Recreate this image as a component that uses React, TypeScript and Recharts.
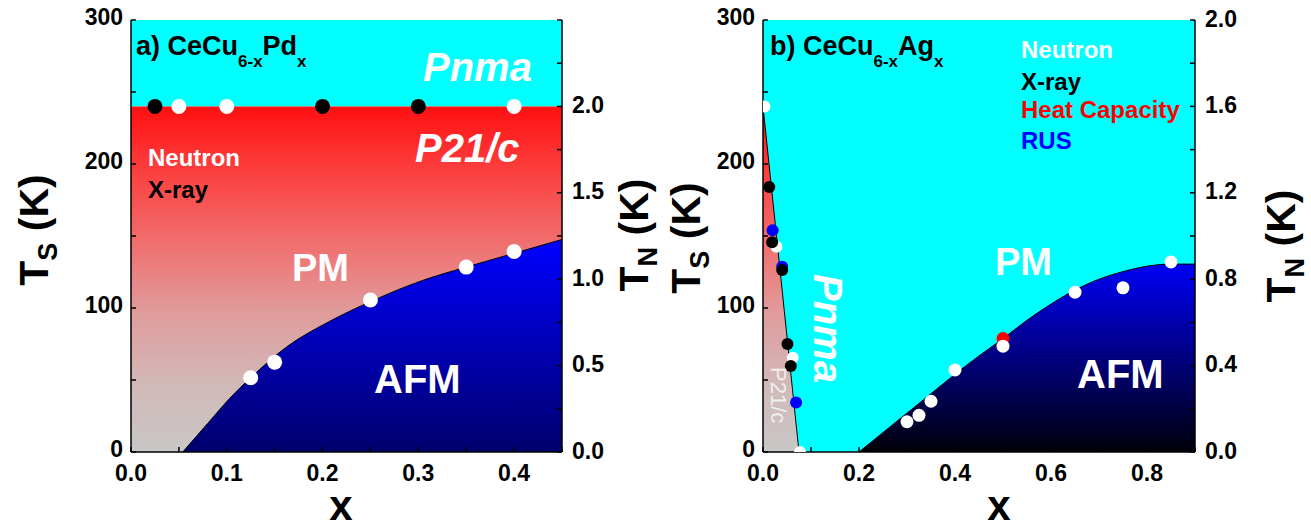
import React from 'react';
import { ComposedChart, XAxis, YAxis, Area, Scatter } from 'recharts';

const FONT = "'Liberation Sans', Arial, Helvetica, sans-serif";

// ---------- Panel a : CeCu6-xPdx ----------
const aXTicks = [0, 0.05, 0.1, 0.15, 0.2, 0.25, 0.3, 0.35, 0.4, 0.45];
const aXLabels = [0, 0.1, 0.2, 0.3, 0.4];
const aTsTicks = [0, 50, 100, 150, 200, 250, 300];
const aTsLabels = [0, 100, 200, 300];
const aTnTicks = [0, 0.25, 0.5, 0.75, 1, 1.25, 1.5, 1.75, 2, 2.25, 2.5];
const aTnLabels = [0, 0.5, 1, 1.5, 2];
const aStructTs = 240;
const aPnmaRegion = [{ x: 0, y: 300 }, { x: 0.45, y: 300 }];
const aP21cRegion = [{ x: 0, y: 240 }, { x: 0.45, y: 240 }];
const aStructNeutron = [{ x: 0.05, y: 240 }, { x: 0.1, y: 240 }, { x: 0.4, y: 240 }];
const aStructXray = [{ x: 0.025, y: 240 }, { x: 0.2, y: 240 }, { x: 0.3, y: 240 }];
const aNeelNeutron = [
  { x: 0.125, y: 0.43 }, { x: 0.15, y: 0.52 }, { x: 0.25, y: 0.88 },
  { x: 0.35, y: 1.07 }, { x: 0.4, y: 1.16 },
];
const aAfmBoundary = [
  { x: 0.054, y: 0 }, { x: 0.08, y: 0.165 }, { x: 0.103, y: 0.31 }, { x: 0.125, y: 0.43 },
  { x: 0.163, y: 0.61 }, { x: 0.207, y: 0.755 }, { x: 0.25, y: 0.87 }, { x: 0.303, y: 0.99 },
  { x: 0.35, y: 1.07 }, { x: 0.4, y: 1.15 }, { x: 0.45, y: 1.23 },
];

// ---------- Panel b : CeCu6-xAgx ----------
const bXTicks = [0, 0.1, 0.2, 0.3, 0.4, 0.5, 0.6, 0.7, 0.8, 0.9];
const bXLabels = [0, 0.2, 0.4, 0.6, 0.8];
const bTsTicks = [0, 50, 100, 150, 200, 250, 300];
const bTsLabels = [0, 100, 200, 300];
const bTnTicks = [0, 0.2, 0.4, 0.6, 0.8, 1, 1.2, 1.4, 1.6, 1.8, 2];
const bTnLabels = [0, 0.4, 0.8, 1.2, 1.6, 2];
const bPnmaRegion = [{ x: 0, y: 300 }, { x: 0.9, y: 300 }];
const bP21cBoundary = [{ x: 0, y: 240 }, { x: 0.075, y: 0 }];
const bStructNeutron = [{ x: 0.003, y: 240 }, { x: 0.028, y: 142.6 }, { x: 0.062, y: 65.5 }, { x: 0.077, y: 0 }];
const bStructXray = [
  { x: 0.013, y: 184 }, { x: 0.019, y: 145.6 }, { x: 0.04, y: 126.4 },
  { x: 0.051, y: 75 }, { x: 0.058, y: 59.7 },
];
const bStructRus = [{ x: 0.02, y: 154 }, { x: 0.04, y: 128.7 }, { x: 0.069, y: 34.3 }];
const bNeelNeutron = [
  { x: 0.3, y: 0.14 }, { x: 0.325, y: 0.17 }, { x: 0.35, y: 0.235 }, { x: 0.4, y: 0.38 },
  { x: 0.5, y: 0.49 }, { x: 0.65, y: 0.74 }, { x: 0.75, y: 0.76 }, { x: 0.85, y: 0.88 },
];
const bNeelHeatCapacity = [{ x: 0.5, y: 0.525 }];
const bAfmBoundary = [
  { x: 0.2, y: 0 }, { x: 0.25, y: 0.09 }, { x: 0.3, y: 0.18 }, { x: 0.35, y: 0.27 },
  { x: 0.4, y: 0.36 }, { x: 0.45, y: 0.445 }, { x: 0.5, y: 0.525 }, { x: 0.55, y: 0.61 },
  { x: 0.6, y: 0.685 }, { x: 0.65, y: 0.75 }, { x: 0.7, y: 0.8 }, { x: 0.75, y: 0.835 },
  { x: 0.8, y: 0.86 }, { x: 0.85, y: 0.87 }, { x: 0.9, y: 0.87 },
];

const has = (arr: number[], v: number) => arr.some((l) => Math.abs(l - v) < 1e-9);
const fmt = (labels: number[], digits: number) => (v: number) => (has(labels, v) ? v.toFixed(digits) : '');

const tickStyle = { fontSize: 23, fontWeight: 700, fill: '#000', fontFamily: FONT };
const leftTickStyle = { ...tickStyle, dy: -3 };
const rightTickStyle = { ...tickStyle, dy: -1.5 };
const lineStyle = { stroke: '#000', strokeWidth: 1.5 };

const dotShape = (fill: string, r: number) => (props: any) => (
  <circle cx={props.cx} cy={props.cy} r={r} fill={fill} />
);

function RedGray({ id }: { id: string }) {
  return (
    <linearGradient id={id} x1="0" y1="0" x2="0" y2="1">
      <stop offset="0" stopColor="#FF1010" />
      <stop offset="0.2" stopColor="#FC4242" />
      <stop offset="0.4" stopColor="#F07070" />
      <stop offset="0.6" stopColor="#E09C9C" />
      <stop offset="0.8" stopColor="#D2B8B8" />
      <stop offset="1" stopColor="#C9C7C7" />
    </linearGradient>
  );
}

function PanelA() {
  return (
    <ComposedChart width={650} height={529} margin={{ top: 20, right: 0, bottom: 0, left: 0 }}>
      <defs>
        <RedGray id="aRedGray" />
        <linearGradient id="aBlue" x1="0" y1="0" x2="0" y2="1">
          <stop offset="0" stopColor="#0000FF" />
          <stop offset="1" stopColor="#00006C" />
        </linearGradient>
      </defs>
      <Area xAxisId="b" yAxisId="ts" data={aPnmaRegion} dataKey="y" type="linear" baseValue={aStructTs}
        fill="#00FFFF" fillOpacity={1} stroke="none" dot={false} activeDot={false} isAnimationActive={false} />
      <Area xAxisId="b" yAxisId="ts" data={aP21cRegion} dataKey="y" type="linear" baseValue={0}
        fill="url(#aRedGray)" fillOpacity={1} stroke="none" dot={false} activeDot={false} isAnimationActive={false} />
      <Area xAxisId="b" yAxisId="tn" data={aAfmBoundary} dataKey="y" type="monotone" baseValue={0}
        fill="url(#aBlue)" fillOpacity={1} stroke="#000" strokeWidth={1} dot={false} activeDot={false} isAnimationActive={false} />
      <XAxis xAxisId="b" type="number" dataKey="x" domain={[0, 0.45]} ticks={aXTicks} tickFormatter={fmt(aXLabels, 1)}
        height={77} tickSize={-5} tickMargin={18} tick={tickStyle} axisLine={lineStyle} tickLine={lineStyle} interval={0} allowDataOverflow />
      <XAxis xAxisId="t" orientation="top" type="number" dataKey="x" domain={[0, 0.45]} ticks={aXTicks}
        height={0} tickSize={-5} tick={false} axisLine={lineStyle} tickLine={lineStyle} interval={0} allowDataOverflow />
      <YAxis yAxisId="ts" type="number" dataKey="y" domain={[0, 300]} ticks={aTsTicks} tickFormatter={fmt(aTsLabels, 0)}
        width={131} tickSize={-5} tickMargin={13} tick={leftTickStyle} axisLine={lineStyle} tickLine={lineStyle} interval={0} allowDataOverflow />
      <YAxis yAxisId="tn" orientation="right" type="number" dataKey="y" domain={[0, 2.5]} ticks={aTnTicks} tickFormatter={fmt(aTnLabels, 1)}
        width={88} tickSize={-5} tickMargin={15} tick={rightTickStyle} axisLine={lineStyle} tickLine={lineStyle} interval={0} allowDataOverflow />
      <Scatter xAxisId="b" yAxisId="ts" data={aStructXray} dataKey="y" shape={dotShape('#000', 7.5)} isAnimationActive={false} />
      <Scatter xAxisId="b" yAxisId="ts" data={aStructNeutron} dataKey="y" shape={dotShape('#FFF', 7.5)} isAnimationActive={false} />
      <Scatter xAxisId="b" yAxisId="tn" data={aNeelNeutron} dataKey="y" shape={dotShape('#FFF', 7.5)} isAnimationActive={false} />
    </ComposedChart>
  );
}

function PanelB() {
  return (
    <ComposedChart width={661} height={529} margin={{ top: 20, right: 0, bottom: 0, left: 0 }}>
      <defs>
        <RedGray id="bRedGray" />
        <linearGradient id="bBlue" x1="0" y1="0" x2="0" y2="1">
          <stop offset="0" stopColor="#0000F5" />
          <stop offset="1" stopColor="#00000A" />
        </linearGradient>
      </defs>
      <Area xAxisId="b" yAxisId="ts" data={bPnmaRegion} dataKey="y" type="linear" baseValue={0}
        fill="#00FFFF" fillOpacity={1} stroke="none" dot={false} activeDot={false} isAnimationActive={false} />
      <Area xAxisId="b" yAxisId="ts" data={bP21cBoundary} dataKey="y" type="linear" baseValue={0}
        fill="url(#bRedGray)" fillOpacity={1} stroke="#000" strokeWidth={1} dot={false} activeDot={false} isAnimationActive={false} />
      <Area xAxisId="b" yAxisId="tn" data={bAfmBoundary} dataKey="y" type="monotone" baseValue={0}
        fill="url(#bBlue)" fillOpacity={1} stroke="#000" strokeWidth={1} dot={false} activeDot={false} isAnimationActive={false} />
      <XAxis xAxisId="b" type="number" dataKey="x" domain={[0, 0.9]} ticks={bXTicks} tickFormatter={fmt(bXLabels, 1)}
        height={77} tickSize={-5} tickMargin={18} tick={tickStyle} axisLine={lineStyle} tickLine={lineStyle} interval={0} allowDataOverflow />
      <XAxis xAxisId="t" orientation="top" type="number" dataKey="x" domain={[0, 0.9]} ticks={bXTicks}
        height={0} tickSize={-5} tick={false} axisLine={lineStyle} tickLine={lineStyle} interval={0} allowDataOverflow />
      <YAxis yAxisId="ts" type="number" dataKey="y" domain={[0, 300]} ticks={bTsTicks} tickFormatter={fmt(bTsLabels, 0)}
        width={113} tickSize={-5} tickMargin={13} tick={leftTickStyle} axisLine={lineStyle} tickLine={lineStyle} interval={0} allowDataOverflow />
      <YAxis yAxisId="tn" orientation="right" type="number" dataKey="y" domain={[0, 2]} ticks={bTnTicks} tickFormatter={fmt(bTnLabels, 1)}
        width={116} tickSize={-5} tickMargin={15} tick={rightTickStyle} axisLine={lineStyle} tickLine={lineStyle} interval={0} allowDataOverflow />
      <Scatter xAxisId="b" yAxisId="ts" data={bStructNeutron} dataKey="y" shape={dotShape('#FFF', 6)} isAnimationActive={false} />
      <Scatter xAxisId="b" yAxisId="ts" data={bStructRus} dataKey="y" shape={dotShape('#0000FF', 6)} isAnimationActive={false} />
      <Scatter xAxisId="b" yAxisId="ts" data={bStructXray} dataKey="y" shape={dotShape('#000', 6)} isAnimationActive={false} />
      <Scatter xAxisId="b" yAxisId="tn" data={bNeelHeatCapacity} dataKey="y" shape={dotShape('#FF0000', 6.5)} isAnimationActive={false} />
      <Scatter xAxisId="b" yAxisId="tn" data={bNeelNeutron} dataKey="y" shape={dotShape('#FFF', 6.5)} isAnimationActive={false} />
    </ComposedChart>
  );
}

function AxisTitle({ x, y, sub }: { x: number; y: number; sub: string }) {
  return (
    <text transform={`translate(${x},${y}) rotate(-90)`} textAnchor="middle" fontFamily={FONT} fontWeight="bold" fontSize={41} fill="#000">
      T<tspan fontSize={27} dy={9}>{sub}</tspan><tspan dy={-9}>{' (K)'}</tspan>
    </text>
  );
}

function Overlay() {
  const bold = { fontFamily: FONT, fontWeight: 700 as const };
  return (
    <svg width={1311} height={529} style={{ position: 'absolute', left: 0, top: 0, pointerEvents: 'none' }}>
      {/* panel a */}
      <text x={136} y={55} {...bold} fontSize={27} fill="#000">
        a) CeCu<tspan fontSize={17} dy={12}>6-x</tspan><tspan dy={-12}>Pd</tspan><tspan fontSize={17} dy={12}>x</tspan>
      </text>
      <text x={423} y={81} {...bold} fontStyle="italic" fontSize={40} fill="#FFF">Pnma</text>
      <text x={415} y={162} {...bold} fontStyle="italic" fontSize={40} fill="#FFF">P21/c</text>
      <text x={148} y={166} {...bold} fontSize={24} fill="#FFF">Neutron</text>
      <text x={148} y={198} {...bold} fontSize={24} fill="#000">X-ray</text>
      <text x={292} y={281} {...bold} fontSize={38} fill="#FFF">PM</text>
      <text x={374} y={393} {...bold} fontSize={40} fill="#FFF">AFM</text>
      <text x={341} y={520} {...bold} fontSize={42} textAnchor="middle" fill="#000">x</text>
      <AxisTitle x={48} y={230} sub="S" />
      <AxisTitle x={648} y={235} sub="N" />
      {/* panel b */}
      <text x={770} y={55} {...bold} fontSize={27} fill="#000">
        b) CeCu<tspan fontSize={17} dy={12}>6-x</tspan><tspan dy={-12}>Ag</tspan><tspan fontSize={17} dy={12}>x</tspan>
      </text>
      <text x={1021} y={58} {...bold} fontSize={24} fill="#FFF">Neutron</text>
      <text x={1021} y={90} {...bold} fontSize={24} fill="#000">X-ray</text>
      <text x={1021} y={118} {...bold} fontSize={24} fill="#FF0000">Heat Capacity</text>
      <text x={1021} y={149} {...bold} fontSize={24} fill="#0000FF">RUS</text>
      <text x={995} y={275} {...bold} fontSize={38} fill="#FFF">PM</text>
      <text x={1077} y={388} {...bold} fontSize={40} fill="#FFF">AFM</text>
      <text transform="translate(814,274) rotate(90)" {...bold} fontStyle="italic" fontSize={40} fill="#FFF">Pnma</text>
      <text transform="translate(771,367) rotate(90)" fontFamily={FONT} fontSize={22} fill="#EEEEEE">P21/c</text>
      <text x={999} y={520} {...bold} fontSize={42} textAnchor="middle" fill="#000">x</text>
      <AxisTitle x={700} y={238} sub="S" />
      <AxisTitle x={1295} y={246} sub="N" />
    </svg>
  );
}

export default function App() {
  return (
    <div style={{ position: 'absolute', left: 0, top: 0, width: 1311, height: 529, background: '#FFF' }}>
      <div style={{ position: 'absolute', left: 0, top: 0 }}>
        <PanelA />
      </div>
      <div style={{ position: 'absolute', left: 650, top: 0 }}>
        <PanelB />
      </div>
      <Overlay />
    </div>
  );
}
